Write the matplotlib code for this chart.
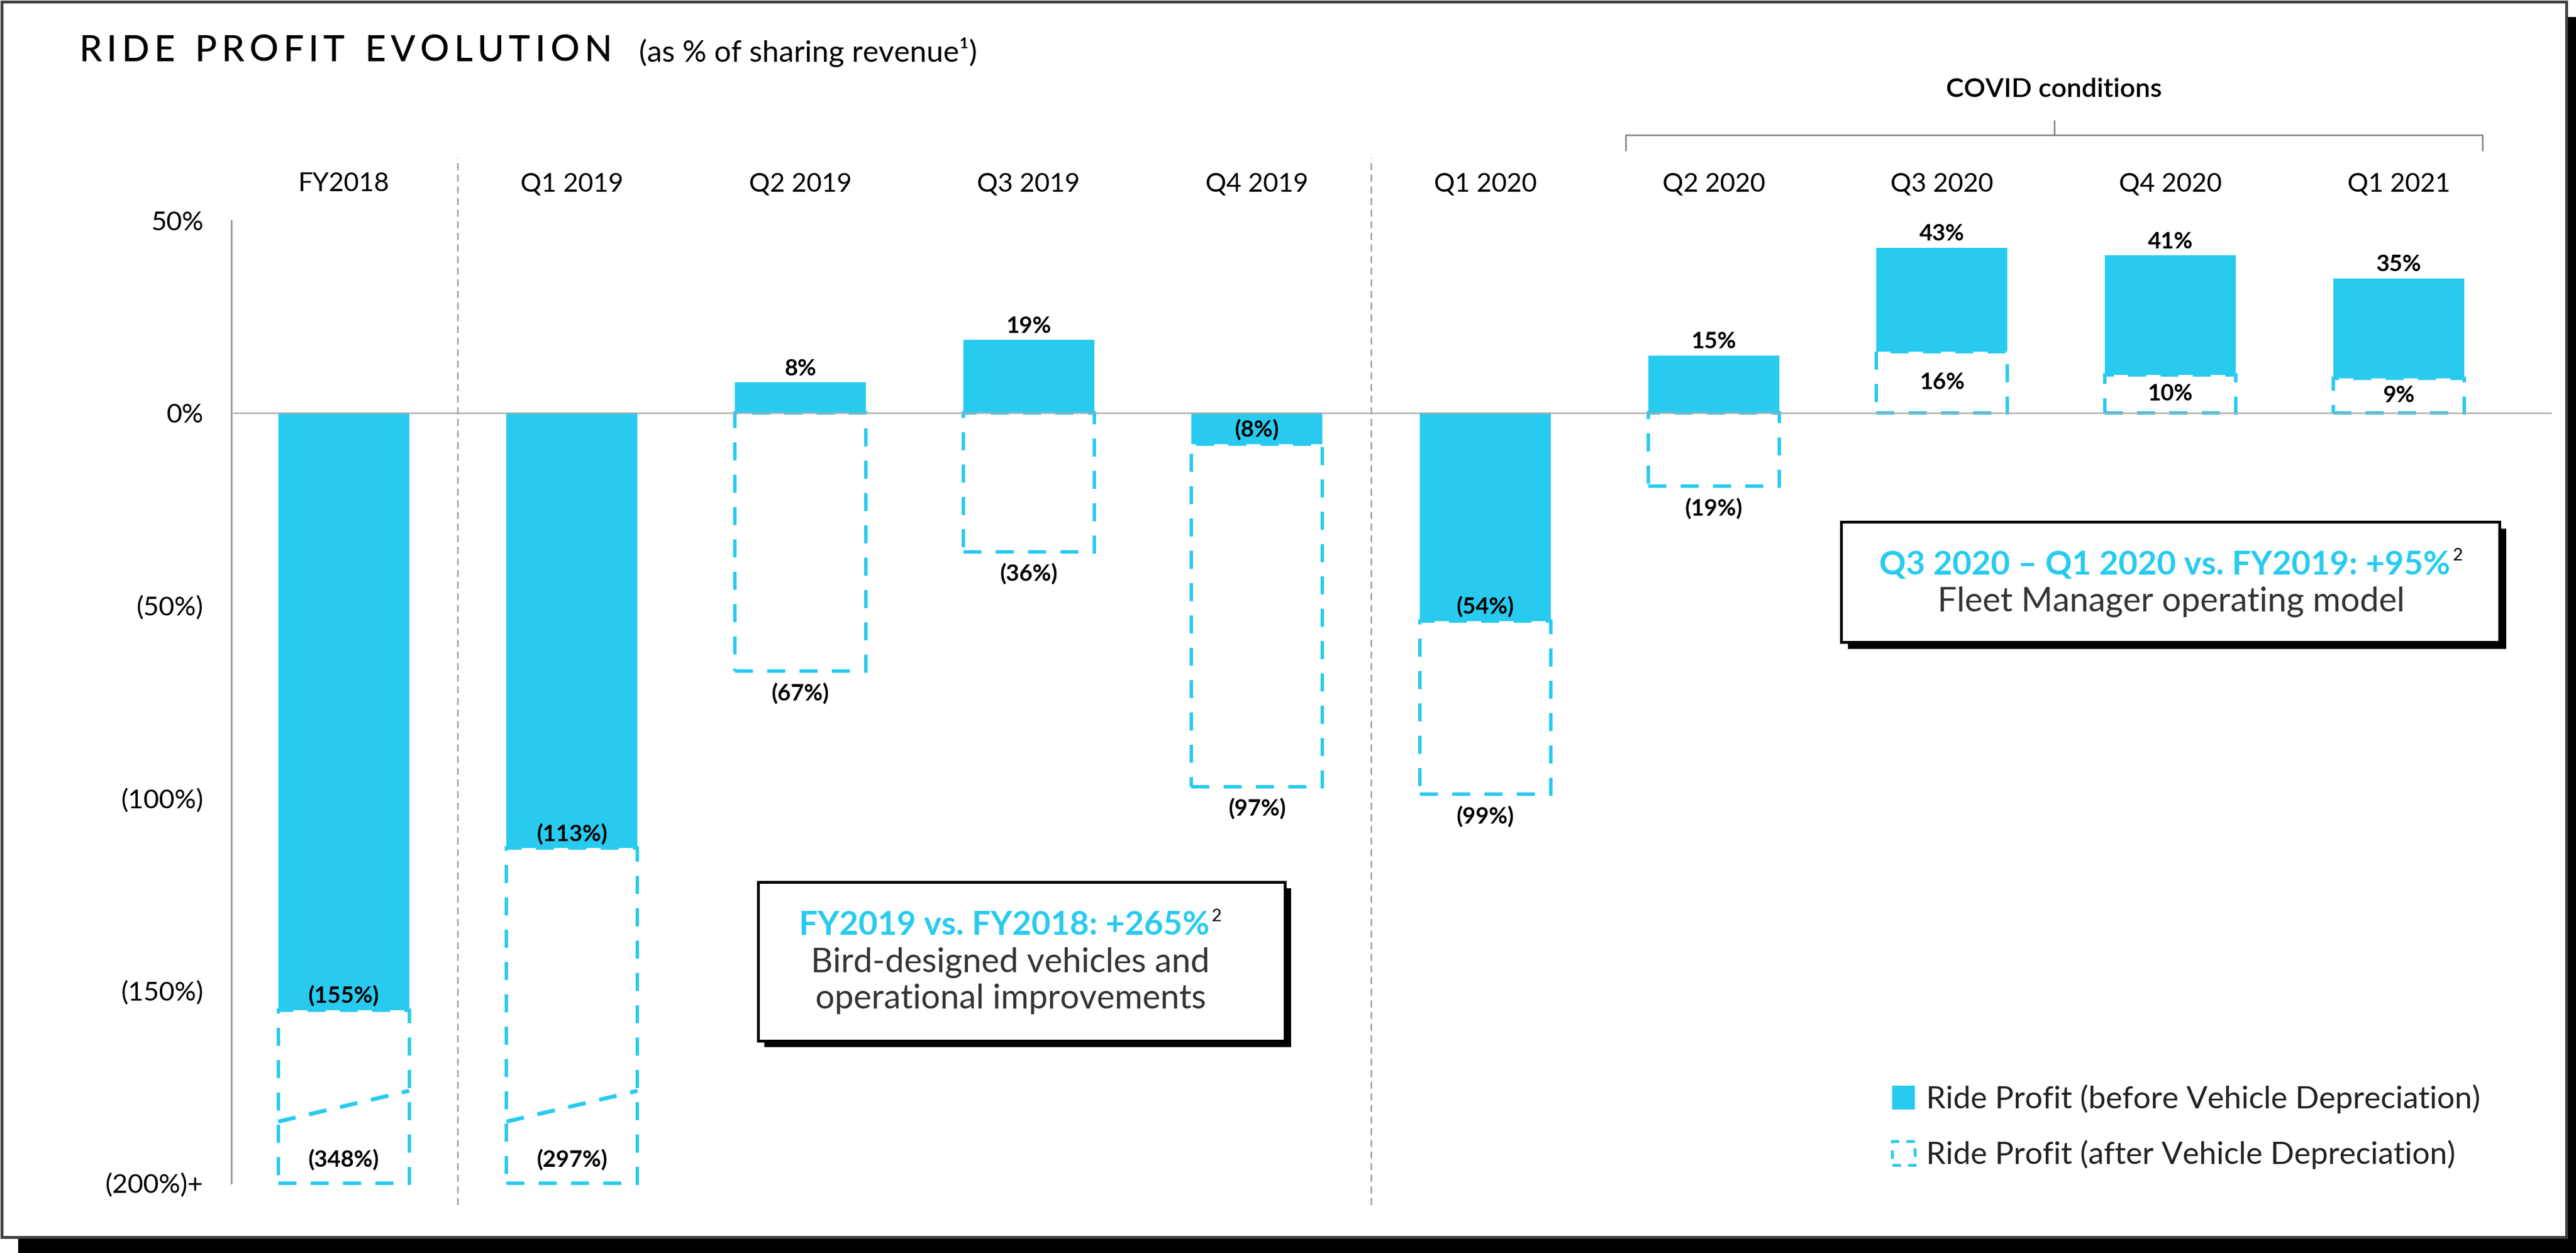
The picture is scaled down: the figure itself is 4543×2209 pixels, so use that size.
import matplotlib
matplotlib.use("Agg")
import matplotlib.pyplot as plt
from matplotlib import transforms
from matplotlib.patches import Patch, Rectangle

# ------------------------------------------------------------------
# Data
# ------------------------------------------------------------------
categories = ["FY2018", "Q1 2019", "Q2 2019", "Q3 2019", "Q4 2019",
              "Q1 2020", "Q2 2020", "Q3 2020", "Q4 2020", "Q1 2021"]
profit_before_dep = [-155, -113, 8, 19, -8, -54, 15, 43, 41, 35]
profit_after_dep = [-348, -297, -67, -36, -97, -99, -19, 16, 10, 9]

y_ticks = [50, 0, -50, -100, -150, -200]
y_tick_labels = ["50%", "0%", "(50%)", "(100%)", "(150%)", "(200%)+"]

period_breaks = ["FY2018", "Q4 2019"]      # dotted divider after these
covid_periods = ["Q2 2020", "Q1 2021"]     # first / last period under the bracket

title = "RIDE PROFIT EVOLUTION"
subtitle = "(as % of sharing revenue\u00b9)"
legend_labels = ["Ride Profit (before Vehicle Depreciation)",
                 "Ride Profit (after Vehicle Depreciation)"]
callout_fy = ("FY2019 vs. FY2018: +265%",
              ["Bird-designed vehicles and", "operational improvements"])
callout_covid = ("Q3 2020 \u2013 Q1 2020 vs. FY2019: +95%",
                 ["Fleet Manager operating model"])

# ------------------------------------------------------------------
# Style
# ------------------------------------------------------------------
W, H, DPI = 4543, 2209, 100
CYAN = "#28CBEF"
GREY = "#9B9B9B"
TEXT = "#222222"
Y_MIN, Y_MAX = -200, 50
BAR_W = 0.574

plt.rcParams["font.family"] = ["Lato", "DejaVu Sans"]


def pt(px):
    return px * 72 / DPI


def fx(px):
    return px / W


def fy(py):
    return 1 - py / H


def pct(v):
    return f"{v}%" if v >= 0 else f"({-v}%)"


fig = plt.figure(figsize=(W / DPI, H / DPI), dpi=DPI)
renderer = fig.canvas.get_renderer()

# panel with drop shadow
fig.patches.append(Rectangle((fx(32), fy(H + 40)), 1.0, fy(30) - fy(H + 40),
                             transform=fig.transFigure, facecolor="black",
                             edgecolor="none", zorder=-3))
fig.patches.append(Rectangle((fx(2.5), fy(2181)), fx(4526) - fx(2.5), fy(2.5) - fy(2181),
                             transform=fig.transFigure, facecolor="white",
                             edgecolor="#404040", linewidth=pt(5), zorder=-2))

ax = fig.add_axes([fx(408), fy(2086), fx(4500) - fx(408), fy(389) - fy(2086)])
ax.patch.set_alpha(0)
ax.set_xlim(-0.492, 9.67)
ax.set_ylim(Y_MIN, Y_MAX)

# =============================
# Bars
# =============================
dash = (0, (5.3, 4.2))
for i, (b, a) in enumerate(zip(profit_before_dep, profit_after_dep)):
    ax.bar(i, b, width=BAR_W, color=CYAN, zorder=2)

    if a >= 0:
        lo, hi = 0, a
    else:
        lo, hi = max(a, Y_MIN), min(b, 0)
    ax.add_patch(Rectangle((i - BAR_W / 2, lo), BAR_W, hi - lo, facecolor="white",
                           edgecolor=CYAN, linewidth=pt(6), linestyle=dash,
                           zorder=3, clip_on=False))

    # axis break for values below the floor
    if a < Y_MIN:
        ax.plot([i - BAR_W / 2, i + BAR_W / 2], [Y_MIN + 16, Y_MIN + 24],
                color=CYAN, lw=pt(7), linestyle=(0, (4.5, 3.5)), zorder=4,
                solid_capstyle="butt")

    label_kw = dict(textcoords="offset points", ha="center", va="center",
                    fontsize=29, fontweight="bold", color="black", zorder=6)
    ax.annotate(pct(b), (i, b), xytext=(0, pt(24)), **label_kw)
    if a >= 0:
        ax.annotate(pct(a), (i, a / 2), xytext=(0, 0), **label_kw)
    elif a < Y_MIN:
        ax.annotate(pct(a), (i, Y_MIN), xytext=(0, pt(40)), **label_kw)
    else:
        ax.annotate(pct(a), (i, a), xytext=(0, -pt(40)), **label_kw)

ax.axhline(0, color="#A8A8A8", lw=pt(3), alpha=0.8, zorder=4)

# =============================
# Axes
# =============================
for side in ["top", "right", "bottom"]:
    ax.spines[side].set_visible(False)
ax.spines["left"].set_color(GREY)
ax.spines["left"].set_linewidth(pt(3))

ax.set_yticks(y_ticks, y_tick_labels)
ax.tick_params(axis="y", length=0, pad=pt(49), labelsize=34, labelcolor="black")

ax.set_xticks(range(len(categories)), categories)
ax.xaxis.tick_top()
ax.tick_params(axis="x", length=0, pad=pt(44), labelsize=33, labelcolor="black")

xaxis_tr = ax.get_xaxis_transform()
for name in period_breaks:
    xs = categories.index(name) + 0.5
    ax.plot([xs, xs], [-0.0224, 1.0654], transform=xaxis_tr, color=GREY,
            lw=pt(2.5), linestyle=(0, (5, 3.2)), clip_on=False, zorder=1)

# COVID bracket
blend = transforms.blended_transform_factory(ax.transData, fig.transFigure)
x0 = categories.index(covid_periods[0]) - 0.385
x1 = categories.index(covid_periods[1]) + 0.367
xm = (x0 + x1) / 2
ax.plot([x0, x0, x1, x1], [fy(265), fy(238), fy(238), fy(265)], transform=blend,
        color="#7A7A7A", lw=pt(2.5), clip_on=False)
ax.plot([xm, xm], [fy(238), fy(213)], transform=blend, color="#7A7A7A",
        lw=pt(2.5), clip_on=False)
ax.text(xm, fy(158), "COVID conditions", transform=blend, ha="center", va="center",
        fontsize=34, fontweight="semibold", color="black")

# =============================
# Title
# =============================
title_kw = dict(fontsize=46, fontweight="medium", color="black", va="baseline")
glyphs = [fig.text(0, fy(108), ch, **title_kw) for ch in title]
widths = [g.get_window_extent(renderer).width if ch != " " else 18
          for g, ch in zip(glyphs, title)]
tracking = (1079 - 139 - sum(widths)) / (len(title) - 1)
x = 139
for g, w in zip(glyphs, widths):
    g.set_x(fx(x))
    x += w + tracking
fig.text(fx(1127), fy(108), subtitle, fontsize=38, fontweight="normal",
         color="black", va="baseline")


# =============================
# Callouts
# =============================
def callout(box, shadow, text_cx, head, head_base, body, body_bases):
    left, top, right, bottom = box
    fig.patches.append(Rectangle((fx(left + shadow), fy(bottom + shadow)), fx(right) - fx(left),
                                 fy(top) - fy(bottom), transform=fig.transFigure,
                                 facecolor="black", edgecolor="none", zorder=3))
    fig.patches.append(Rectangle((fx(left), fy(bottom)), fx(right) - fx(left),
                                 fy(top) - fy(bottom), transform=fig.transFigure,
                                 facecolor="white", edgecolor="black",
                                 linewidth=pt(5), zorder=4))
    t = fig.text(fx(text_cx - 11), fy(head_base), head, ha="center", va="baseline",
                 fontsize=42, fontweight="bold", color=CYAN, zorder=5)
    bb = t.get_window_extent(renderer)
    fig.text(fx(bb.x1 + 4), fy(head_base - 24), "2", ha="left", va="baseline",
             fontsize=22, fontweight="normal", color="black", zorder=5)
    for line, base in zip(body, body_bases):
        fig.text(fx(text_cx), fy(base), line, ha="center", va="baseline",
                 fontsize=43, fontweight="normal", color="#333333", zorder=5)


callout((1337, 1555, 2266, 1835), 11, 1782, callout_fy[0], 1648,
        callout_fy[1], [1713, 1778])
callout((3247, 920, 4408, 1132), 12, 3829, callout_covid[0], 1012,
        callout_covid[1], [1077])

# =============================
# Legend
# =============================
handles = [Patch(facecolor=CYAN, edgecolor="none"),
           Patch(facecolor="white", edgecolor=CYAN, linewidth=pt(5), linestyle=(0, (3, 2.5)))]
leg = ax.legend(handles, legend_labels, loc="upper left",
                bbox_to_anchor=(fx(3337), fy(1912)), bbox_transform=fig.transFigure,
                frameon=False, fontsize=39.5, handlelength=0.72, handleheight=0.78,
                handletextpad=0.38, labelspacing=0.85, borderpad=0, borderaxespad=0)
for txt in leg.get_texts():
    txt.set_color(TEXT)

fig.savefig("out.png", dpi=DPI)
